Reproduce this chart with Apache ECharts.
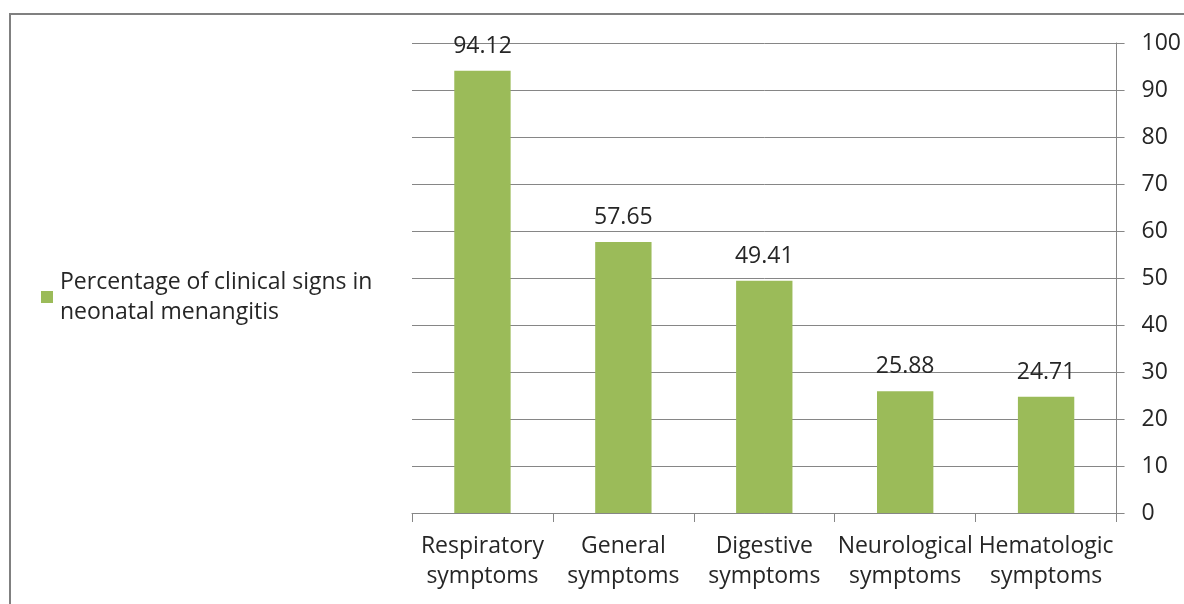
<!DOCTYPE html>
<html>
<head>
<meta charset="utf-8">
<script src="https://cdn.jsdelivr.net/npm/echarts@6/dist/echarts.min.js"></script>
<style>
  html, body { margin: 0; padding: 0; background: #fff; }
  #chart { width: 1184px; height: 604px; }
</style>
</head>
<body>
<div id="chart"></div>
<script>
// Clinical signs in neonatal meningitis (percentage of cases)
const categories = [
  'Respiratory\nsymptoms',
  'General\nsymptoms',
  'Digestive\nsymptoms',
  'Neurological\nsymptoms',
  'Hematologic\nsymptoms'
];
const percentages = [94.12, 57.65, 49.41, 25.88, 24.71];
const seriesName = 'Percentage of clinical signs in neonatal menangitis';
const legendLines = ['Percentage of clinical signs in', 'neonatal menangitis'];

const FONT = '"Open Sans", sans-serif';
const FONT_SIZE = 23;
const TEXT = '#262626';
const LINE = '#868686';
const GREEN = '#9bbb59';

const chart = echarts.init(document.getElementById('chart'), null, { renderer: 'canvas' });

chart.setOption({
  animation: false,
  backgroundColor: '#ffffff',
  textStyle: { fontFamily: FONT },
  graphic: [{
    type: 'rect',
    shape: { x: 10, y: 14, width: 1200, height: 620 },
    style: { fill: 'none', stroke: '#808080', lineWidth: 2 },
    silent: true
  }],
  legend: {
    left: 41,
    top: 252,
    padding: 0,
    orient: 'vertical',
    icon: 'rect',
    itemWidth: 12,
    itemHeight: 12,
    itemGap: 6,
    formatter: () => legendLines.join('\n'),
    textStyle: {
      fontFamily: FONT,
      fontSize: FONT_SIZE,
      color: TEXT,
      lineHeight: 30,
      padding: [30, 0, 0, 2]
    },
    data: [seriesName]
  },
  grid: {
    left: 412,
    right: 67,
    top: 43,
    bottom: 91,
    containLabel: false
  },
  xAxis: {
    type: 'category',
    data: categories,
    boundaryGap: true,
    axisLine: { show: true, lineStyle: { color: LINE, width: 1 } },
    axisTick: { show: true, length: 9, alignWithLabel: false, lineStyle: { color: LINE } },
    axisLabel: {
      interval: 0,
      margin: 18,
      fontFamily: FONT,
      fontSize: FONT_SIZE,
      color: TEXT,
      lineHeight: 30
    }
  },
  yAxis: {
    type: 'value',
    position: 'right',
    min: 0,
    max: 100,
    interval: 10,
    axisLine: { show: true, lineStyle: { color: LINE, width: 1 } },
    axisTick: { show: true, length: 8, inside: false, lineStyle: { color: LINE } },
    splitLine: { show: true, lineStyle: { color: LINE, width: 1 } },
    axisLabel: {
      margin: 25,
      fontFamily: FONT,
      fontSize: FONT_SIZE,
      color: TEXT
    }
  },
  series: [{
    name: seriesName,
    type: 'bar',
    data: percentages,
    barWidth: '40%',
    itemStyle: { color: GREEN },
    label: {
      show: true,
      position: 'top',
      distance: 13,
      fontFamily: FONT,
      fontSize: FONT_SIZE,
      color: TEXT,
      formatter: p => p.value.toFixed(2)
    }
  }]
});
</script>
</body>
</html>
